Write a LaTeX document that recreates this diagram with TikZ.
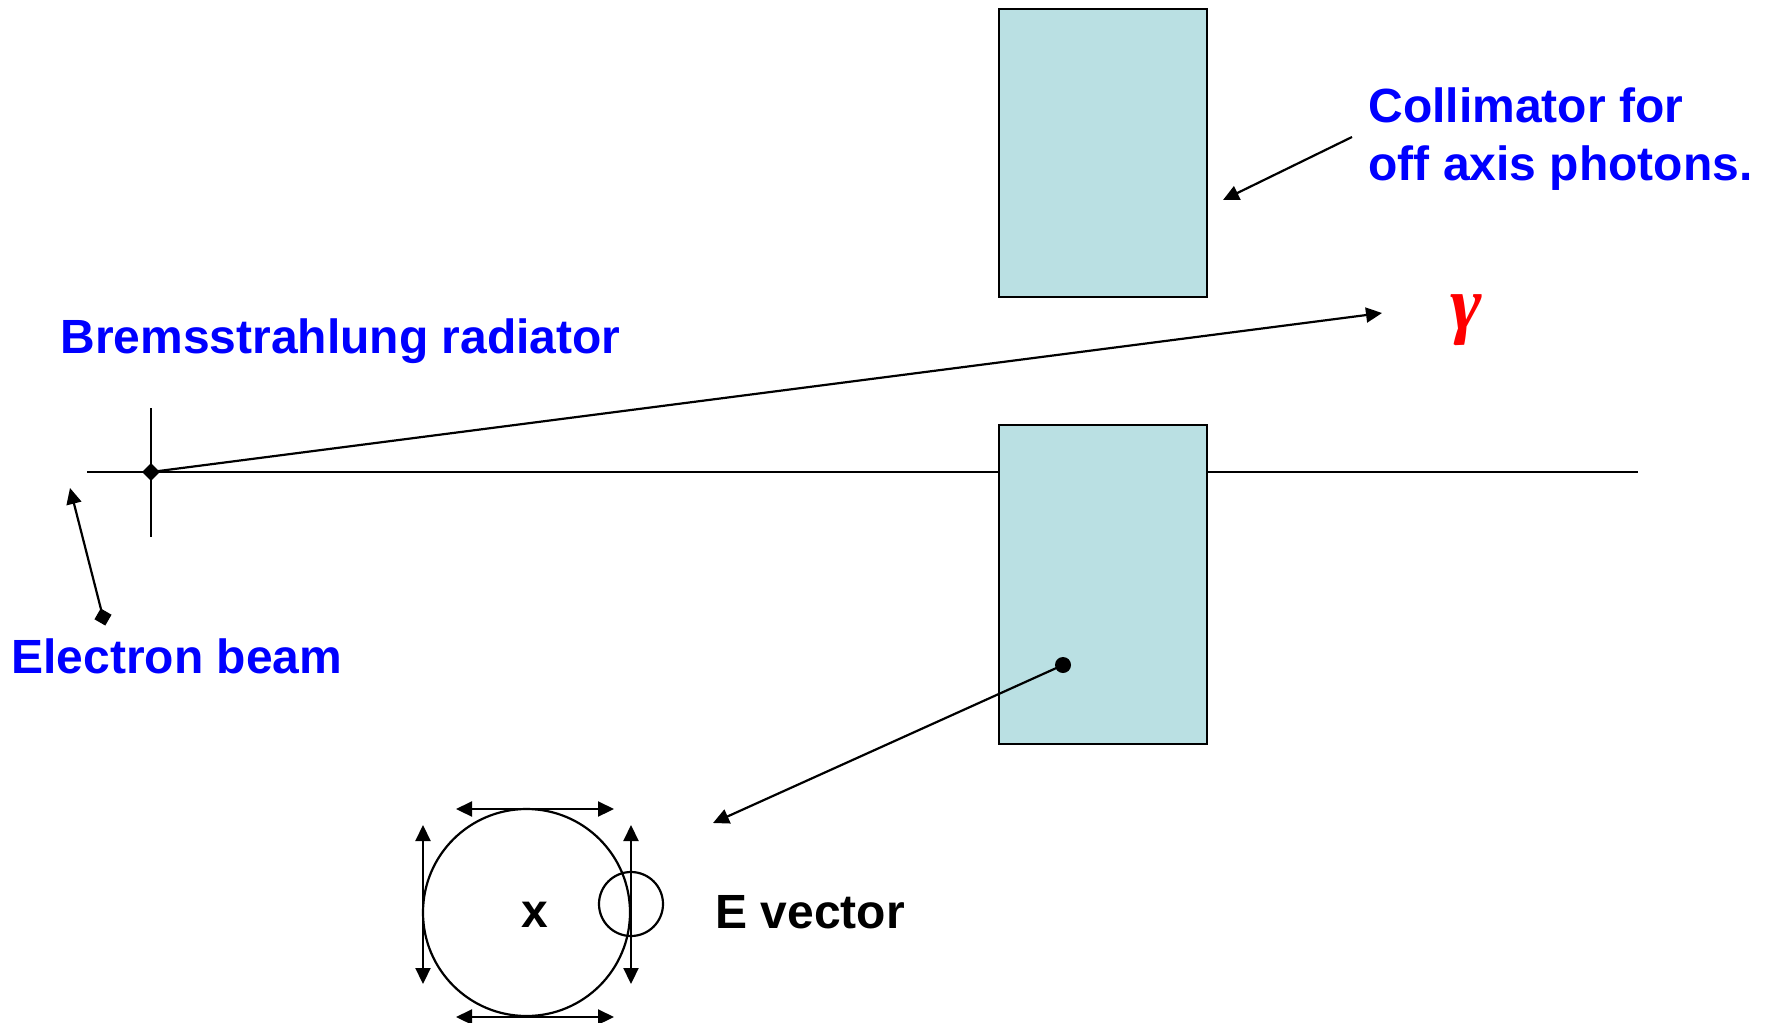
\documentclass[tikz,border=0pt]{standalone}
\usepackage{fontspec}
\setmainfont{Liberation Sans}
\newfontfamily\gkfont{Liberation Serif}
\usetikzlibrary{arrows.meta,shapes.geometric}
\definecolor{colfill}{RGB}{186,224,227}
\definecolor{lblue}{RGB}{0,0,255}
\tikzset{
  ln/.style={line width=1.1pt, black},
  tri/.style={-{Triangle[length=8pt,width=7.5pt]}},
  twotri/.style={{Triangle[length=8pt,width=7.5pt]}-{Triangle[length=8pt,width=7.5pt]}},
  coll/.style={draw=black, line width=1.2pt, fill=colfill},
  dia/.style={fill=black, diamond, inner sep=0pt, minimum width=9pt, minimum height=9pt},
  lab/.style={font=\fontsize{24}{29}\selectfont\bfseries, text=lblue, inner sep=0pt, anchor=base west, align=left},
}
\begin{document}
\begin{tikzpicture}[x=0.5pt,y=-0.5pt]
\useasboundingbox (0,0) rectangle (1768,1023);
% beam line
\coordinate (bl) at (87,472);
\coordinate (br) at (1638,472);
\draw[ln] (bl) -- (br);
% collimator blocks
\node[coll, minimum width=104pt, minimum height=144pt, inner sep=0pt] (top) at (1103,153) {};
\node[coll, minimum width=104pt, minimum height=159.5pt, inner sep=0pt] (bot) at (1103,584.5) {};
% radiator
\coordinate (radt) at (151,408);
\coordinate (radb) at (151,537);
\draw[ln] (radt) -- (radb);
\node[dia] (rad) at (151,472) {};
% photon
\coordinate (ph) at (1382,313);
\draw[ln, tri] (rad.center) -- (ph);
\node[text=red, inner sep=0pt, font=\fontsize{38}{40}\selectfont\gkfont\bfseries\itshape] (gam) at (1466,320) {γ};
% labels
\node[lab] (brem) at (60,353) {Bremsstrahlung radiator};
\node[lab] (elec) at (11,673) {Electron beam};
\node[lab] (colA) at (1368,122) {Collimator for};
\node[lab] (colB) at (1368,180) {off axis photons.};
\node[lab, text=black] (ev) at (715,928) {E vector};
% electron beam pointer
\node[dia, rotate=15] (ebs) at (103,617) {};
\coordinate (ebt) at (70,488);
\draw[ln, tri] (ebs.center) -- (ebt);
% collimator pointer
\coordinate (cps) at (1352,137);
\coordinate (cpt) at (1223,200);
\draw[ln, tri] (cps) -- (cpt);
% E vector pointer
\node[fill=black, circle, inner sep=0pt, minimum size=8pt] (dot) at (1063,665) {};
\coordinate (evt) at (713,823);
\draw[ln, tri] (dot.center) -- (evt);
% circles
\node[draw, circle, line width=1.1pt, minimum size=103.5pt, inner sep=0pt] (big) at (526.5,912.5) {};
\node[draw, circle, line width=1.1pt, minimum size=32pt, inner sep=0pt] (small) at (631,904) {};
\node[inner sep=0pt, font=\fontsize{24}{28}\selectfont\bfseries] (x) at (535,915) {x};
\coordinate (t1) at (456,809); \coordinate (t2) at (614,809);
\coordinate (b1) at (456,1017); \coordinate (b2) at (614,1017);
\coordinate (l1) at (423,825); \coordinate (l2) at (423,984);
\coordinate (r1) at (631,825); \coordinate (r2) at (631,984);
\draw[ln, twotri] (t1) -- (t2);
\draw[ln, twotri] (b1) -- (b2);
\draw[ln, twotri] (l1) -- (l2);
\draw[ln, twotri] (r1) -- (r2);
\end{tikzpicture}
\end{document}
